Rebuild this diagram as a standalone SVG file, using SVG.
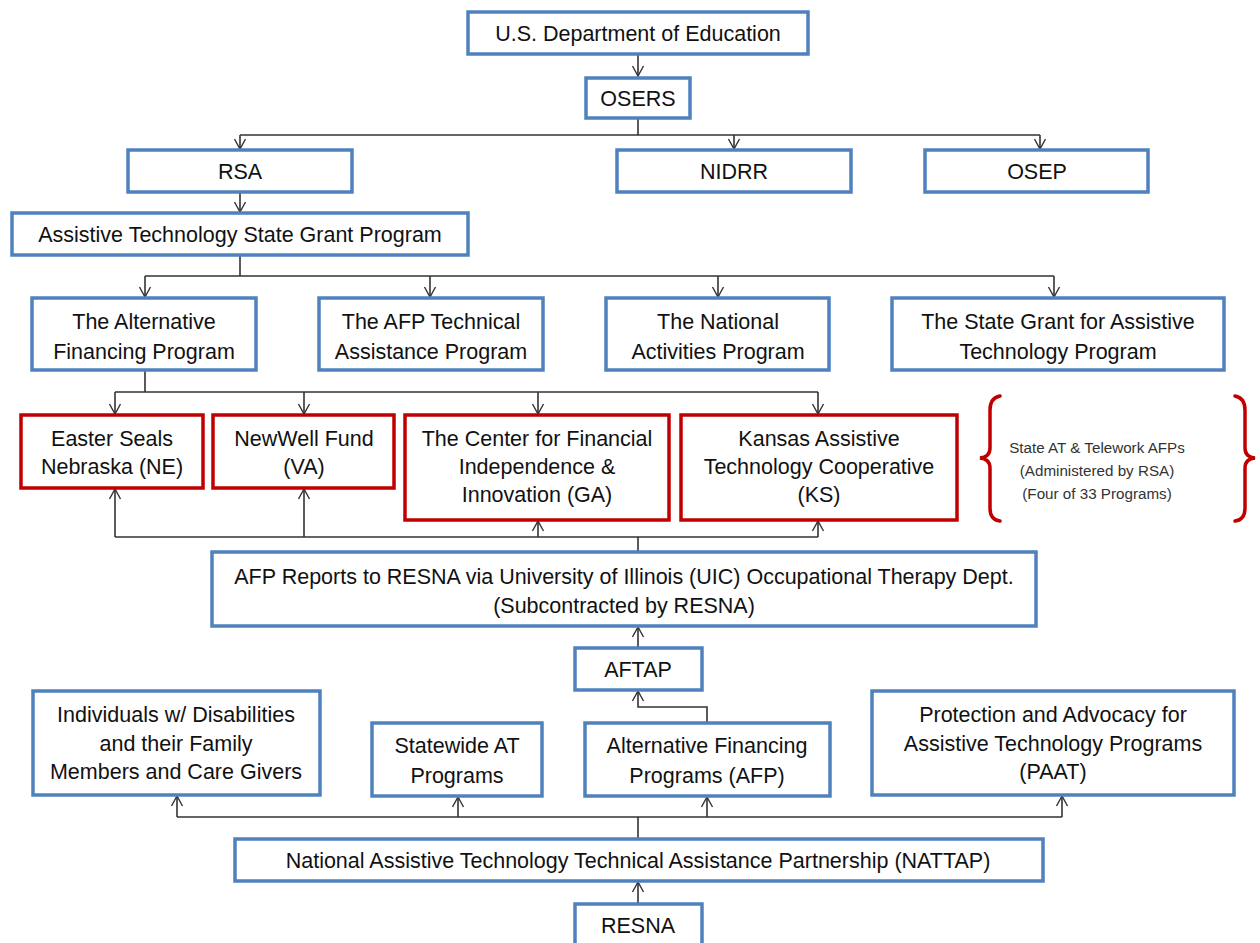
<svg xmlns="http://www.w3.org/2000/svg" width="1260" height="943" viewBox="0 0 1260 943">
<defs>
<marker id="arr" markerUnits="userSpaceOnUse" markerWidth="14" markerHeight="14" refX="11" refY="7" orient="auto">
<path d="M1,1.5 L11,7 L1,12.5" fill="none" stroke="#333" stroke-width="1.4"/>
</marker>
<style>
.b{fill:#fff;stroke:#4F81BD;stroke-width:3.5}
.r{fill:#fff;stroke:#C00000;stroke-width:3.5}
.t{font-family:"Liberation Sans",Arial,sans-serif;font-size:21.5px;fill:#111;text-anchor:middle}
.s{font-family:"Liberation Sans",Arial,sans-serif;font-size:15.2px;fill:#333;text-anchor:middle}
.c{fill:none;stroke:#333;stroke-width:1.6}
.br{fill:none;stroke:#C00000;stroke-width:3.5;stroke-linecap:round}
</style>
</defs>
<rect width="1260" height="943" fill="#fff"/>
<g id="connectors">
<path class="c" d="M638,54 V76" marker-end="url(#arr)"/>
<path class="c" d="M638,118 V135 M240,135 H1040"/>
<path class="c" d="M240,135 V149" marker-end="url(#arr)"/>
<path class="c" d="M734,135 V149" marker-end="url(#arr)"/>
<path class="c" d="M1040,135 V149" marker-end="url(#arr)"/>
<path class="c" d="M240,192 V212" marker-end="url(#arr)"/>
<path class="c" d="M240,255 V276 M145,276 H1054"/>
<path class="c" d="M145,276 V297" marker-end="url(#arr)"/>
<path class="c" d="M430,276 V297" marker-end="url(#arr)"/>
<path class="c" d="M718,276 V297" marker-end="url(#arr)"/>
<path class="c" d="M1054,276 V297" marker-end="url(#arr)"/>
<path class="c" d="M145,370 V392 M115,392 H818"/>
<path class="c" d="M115,392 V414" marker-end="url(#arr)"/>
<path class="c" d="M304,392 V414" marker-end="url(#arr)"/>
<path class="c" d="M538,392 V414" marker-end="url(#arr)"/>
<path class="c" d="M818,392 V414" marker-end="url(#arr)"/>
<path class="c" d="M638,552 V537 M115,537 H818"/>
<path class="c" d="M115,537 V489" marker-end="url(#arr)"/>
<path class="c" d="M304,537 V489" marker-end="url(#arr)"/>
<path class="c" d="M538,537 V521" marker-end="url(#arr)"/>
<path class="c" d="M818,537 V521" marker-end="url(#arr)"/>
<path class="c" d="M638,648 V627" marker-end="url(#arr)"/>
<path class="c" d="M707,723 V707 H638 V691" marker-end="url(#arr)"/>
<path class="c" d="M638,838 V817 M177,817 H1062"/>
<path class="c" d="M177,817 V796" marker-end="url(#arr)"/>
<path class="c" d="M458,817 V797" marker-end="url(#arr)"/>
<path class="c" d="M707,817 V797" marker-end="url(#arr)"/>
<path class="c" d="M1062,817 V796" marker-end="url(#arr)"/>
<path class="c" d="M638,903 V882" marker-end="url(#arr)"/>
</g>
<g id="n-doe"><rect class="b" x="468" y="12" width="340" height="42"/><text class="t" x="638" y="41">U.S. Department of Education</text></g>
<g id="n-osers"><rect class="b" x="586" y="78" width="104" height="40"/><text class="t" x="638" y="106">OSERS</text></g>
<g id="n-rsa"><rect class="b" x="128" y="150" width="224" height="42"/><text class="t" x="240" y="179">RSA</text></g>
<g id="n-nidrr"><rect class="b" x="617" y="150" width="234" height="42"/><text class="t" x="734" y="179">NIDRR</text></g>
<g id="n-osep"><rect class="b" x="925" y="150" width="223" height="42"/><text class="t" x="1037" y="179">OSEP</text></g>
<g id="n-atsgp"><rect class="b" x="12" y="213" width="456" height="42"/><text class="t" x="240" y="242">Assistive Technology State Grant Program</text></g>
<g id="n-afp-prog"><rect class="b" x="32" y="298" width="224" height="72"/><text class="t" x="144" y="329">The Alternative</text><text class="t" x="144" y="359">Financing Program</text></g>
<g id="n-afp-ta"><rect class="b" x="319" y="298" width="224" height="72"/><text class="t" x="431" y="329">The AFP Technical</text><text class="t" x="431" y="359">Assistance Program</text></g>
<g id="n-nat"><rect class="b" x="606" y="298" width="223" height="72"/><text class="t" x="718" y="329">The National</text><text class="t" x="718" y="359">Activities Program</text></g>
<g id="n-sgat"><rect class="b" x="892" y="298" width="332" height="72"/><text class="t" x="1058" y="329">The State Grant for Assistive</text><text class="t" x="1058" y="359">Technology Program</text></g>
<g id="n-es"><rect class="r" x="21" y="415" width="182" height="73"/><text class="t" x="112" y="446">Easter Seals</text><text class="t" x="112" y="474">Nebraska (NE)</text></g>
<g id="n-nw"><rect class="r" x="213" y="415" width="181" height="73"/><text class="t" x="304" y="446">NewWell Fund</text><text class="t" x="304" y="474">(VA)</text></g>
<g id="n-cfii"><rect class="r" x="405" y="415" width="264" height="105"/><text class="t" x="537" y="446">The Center for Financial</text><text class="t" x="537" y="474">Independence &amp;</text><text class="t" x="537" y="502">Innovation (GA)</text></g>
<g id="n-ks"><rect class="r" x="681" y="415" width="276" height="105"/><text class="t" x="819" y="446">Kansas Assistive</text><text class="t" x="819" y="474">Technology Cooperative</text><text class="t" x="819" y="502">(KS)</text></g>
<g id="brace">
<path class="br" d="M1000,396 Q990,398 990,410 V448 Q990,457 980,458 Q990,459 990,468 V508 Q990,520 1000,521"/>
<path class="br" d="M1235,396 Q1245,398 1245,410 V448 Q1245,457 1255,458 Q1245,459 1245,468 V508 Q1245,520 1235,521"/>
<text class="s" x="1097" y="453">State AT &amp; Telework AFPs</text>
<text class="s" x="1097" y="476">(Administered by RSA)</text>
<text class="s" x="1097" y="499">(Four of 33 Programs)</text>
</g>
<g id="n-reports"><rect class="b" x="212" y="552" width="824" height="74"/><text class="t" x="624" y="584">AFP Reports to RESNA via University of Illinois (UIC) Occupational Therapy Dept.</text><text class="t" x="624" y="613">(Subcontracted by RESNA)</text></g>
<g id="n-aftap"><rect class="b" x="575" y="648" width="127" height="42"/><text class="t" x="638" y="677">AFTAP</text></g>
<g id="n-ind"><rect class="b" x="33" y="691" width="287" height="104"/><text class="t" x="176" y="722">Individuals w/ Disabilities</text><text class="t" x="176" y="751">and their Family</text><text class="t" x="176" y="779">Members and Care Givers</text></g>
<g id="n-swat"><rect class="b" x="372" y="723" width="170" height="73"/><text class="t" x="457" y="753">Statewide AT</text><text class="t" x="457" y="783">Programs</text></g>
<g id="n-afps"><rect class="b" x="585" y="723" width="245" height="73"/><text class="t" x="707" y="753">Alternative Financing</text><text class="t" x="707" y="783">Programs (AFP)</text></g>
<g id="n-paat"><rect class="b" x="872" y="691" width="362" height="104"/><text class="t" x="1053" y="722">Protection and Advocacy for</text><text class="t" x="1053" y="751">Assistive Technology Programs</text><text class="t" x="1053" y="779">(PAAT)</text></g>
<g id="n-nattap"><rect class="b" x="235" y="839" width="808" height="42"/><text class="t" x="638" y="868">National Assistive  Technology Technical Assistance Partnership (NATTAP)</text></g>
<g id="n-resna"><rect class="b" x="575" y="904" width="127" height="45"/><text class="t" x="638" y="933">RESNA</text></g>
</svg>
